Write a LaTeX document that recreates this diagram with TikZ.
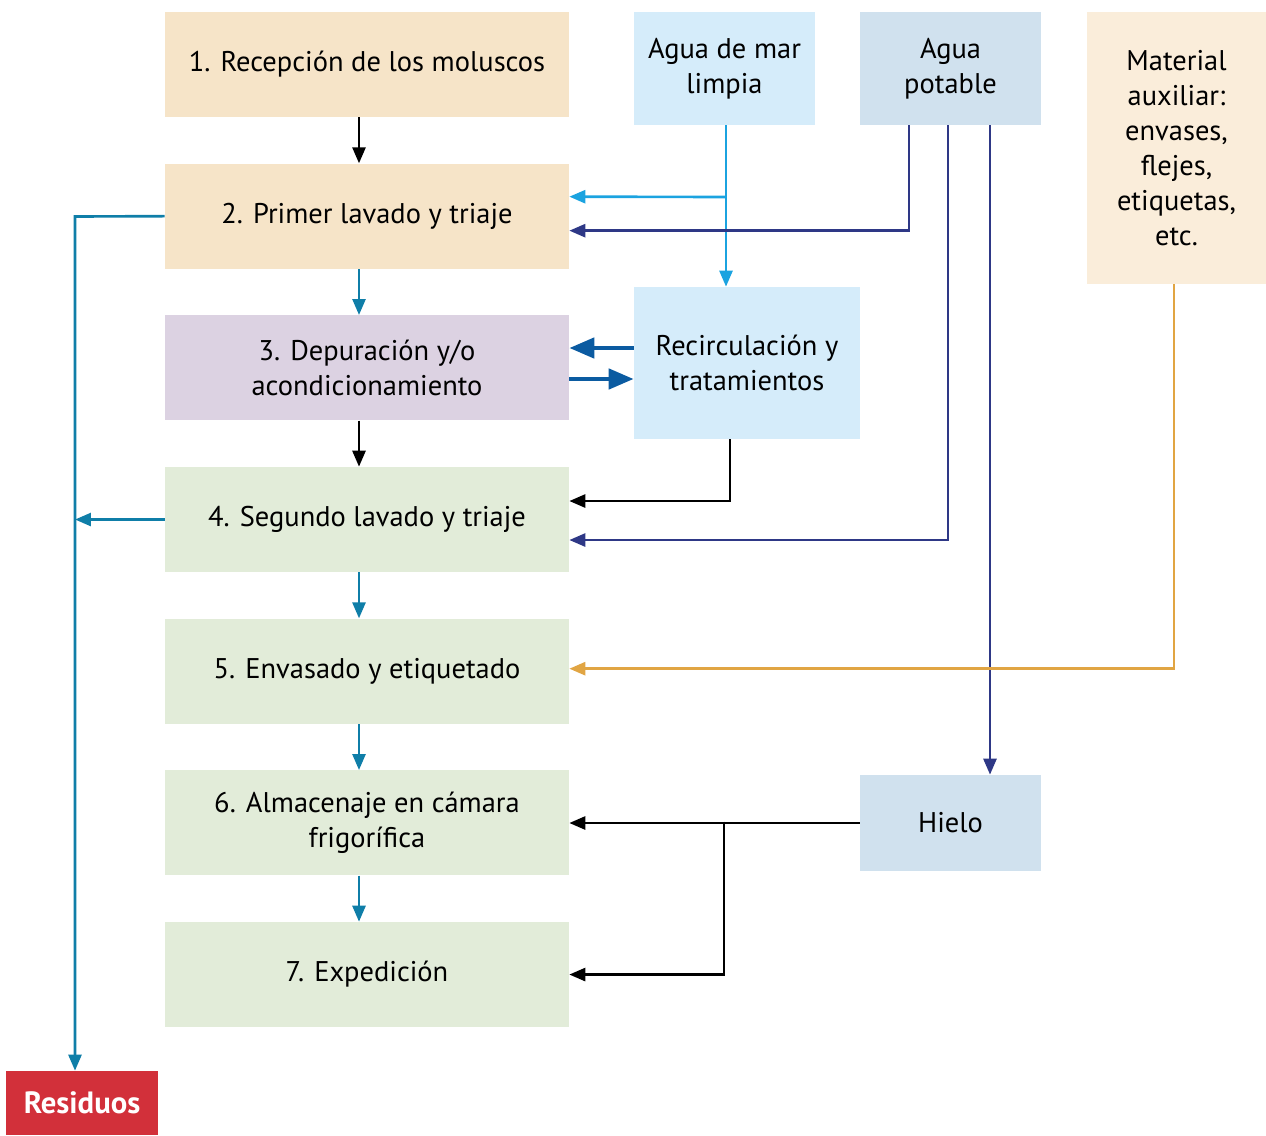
\documentclass[tikz,border=0pt]{standalone}
\usepackage{fontspec}
\setmainfont{PT Sans}
\usetikzlibrary{arrows.meta, positioning}
\definecolor{beige}{HTML}{F6E4C8}
\definecolor{lavender}{HTML}{DCD2E2}
\definecolor{palegreen}{HTML}{E2ECD9}
\definecolor{seabox}{HTML}{D5ECFA}
\definecolor{waterbox}{HTML}{D0E1EE}
\definecolor{auxbox}{HTML}{FAEDDA}
\definecolor{wastered}{HTML}{D2303A}
\definecolor{tealline}{HTML}{0F7EA8}
\definecolor{sealine}{HTML}{1BA3E0}
\definecolor{navyline}{HTML}{2E3886}
\definecolor{recline}{HTML}{0B5BA1}
\definecolor{auxline}{HTML}{E1A543}
\tikzstyle{block} = [rectangle, minimum width=8.08cm, minimum height=2.1cm, inner sep=0pt, text centered, align=center, font=\fontsize{16.2}{20}\selectfont]
\tikzstyle{source} = [rectangle, inner sep=0pt, text centered, align=center, font=\fontsize{16.2}{20}\selectfont]
\tikzstyle{arrow} = [line width=1.5pt, -{Triangle[length=0.32cm, width=0.26cm]}]
\tikzstyle{bigarrow} = [line width=2.6pt, -{Triangle[length=0.5cm, width=0.4cm]}]

\begin{document}
\begin{tikzpicture}[x=0.02cm, y=-0.02cm, node distance=0.92cm]
        \useasboundingbox (0,0) rectangle (1266,1135);
        % process column
        \node (b1) [block, fill=beige] at (367,64.5) {1. Recepción de los moluscos};
        \node (b2) [block, fill=beige, below=of b1] {2. Primer lavado y triaje};
        \node (b3) [block, fill=lavender, below=of b2] {3. Depuración y/o\\acondicionamiento};
        \node (b4) [block, fill=palegreen, below=of b3] {4. Segundo lavado y triaje};
        \node (b5) [block, fill=palegreen, below=of b4] {5. Envasado y etiquetado};
        \node (b6) [block, fill=palegreen, below=of b5] {6. Almacenaje en cámara\\frigorífica};
        \node (b7) [block, fill=palegreen, below=of b6] {7. Expedición};
        % inputs
        \node (mar) [source, fill=seabox, minimum width=3.62cm, minimum height=2.26cm] at (724.5,68.5) {Agua de mar\\limpia};
        \node (pot) [source, fill=waterbox, minimum width=3.62cm, minimum height=2.26cm] at (950.5,68.5) {Agua\\potable};
        \node (mat) [source, fill=auxbox, minimum width=3.58cm, minimum height=5.44cm] at (1176.5,148) {Material\\auxiliar:\\envases,\\flejes,\\etiquetas,\\etc.};
        \node (rec) [source, fill=seabox, minimum width=4.52cm, minimum height=3.04cm] at (747,363) {Recirculación y\\tratamientos};
        \node (hielo) [source, fill=waterbox, minimum width=3.62cm, minimum height=1.92cm] at (950.5,823) {Hielo};
        \node (res) [source, fill=wastered, text=white, minimum width=3.04cm, minimum height=1.28cm, font=\fontsize{17.5}{20}\selectfont\bfseries] at (82,1103) {Residuos};
        \coordinate (wl) at (75,216.5);
        \coordinate (hj) at (724,821.5);

        \draw [arrow] ([xshift=-0.16cm]b1.south) -- ([xshift=-0.16cm]b2.north);
        \draw [arrow, tealline] ([xshift=-0.16cm]b2.south) -- ([xshift=-0.16cm]b3.north);
        \draw [arrow] ([xshift=-0.16cm]b3.south) -- ([xshift=-0.16cm]b4.north);
        \draw [arrow, tealline] ([xshift=-0.16cm]b4.south) -- ([xshift=-0.16cm]b5.north);
        \draw [arrow, tealline] ([xshift=-0.16cm]b5.south) -- ([xshift=-0.16cm]b6.north);
        \draw [arrow, tealline] ([xshift=-0.16cm]b6.south) -- ([xshift=-0.16cm]b7.north);

        \draw [arrow, tealline] (b2.west) -- (wl) -- (wl |- res.north);
        \draw [arrow, tealline] (b4.west) -- (wl |- b4.west);

        \draw [arrow, sealine] ([xshift=0.03cm]mar.south) -- ([xshift=0.03cm]mar.south |- rec.north);
        \draw [arrow, sealine] ([xshift=0.03cm]mar.south |- 0,197) -- ([yshift=0.39cm]b2.east);

        \draw [arrow, navyline] ([xshift=-0.83cm]pot.south) |- ([yshift=-0.29cm]b2.east);
        \draw [arrow, navyline] ([xshift=-0.05cm]pot.south) |- ([yshift=-0.41cm]b4.east);
        \draw [arrow, navyline] ([xshift=0.79cm]pot.south) -- ([xshift=0.79cm]pot.south |- hielo.north);

        \draw [bigarrow, recline] ([yshift=0.3cm]rec.west) -- ([yshift=0.3cm]rec.west -| b3.east);
        \draw [bigarrow, recline] ([yshift=-0.32cm]rec.west -| b3.east) -- ([yshift=-0.32cm]rec.west);
        \draw [arrow] ([xshift=-0.34cm]rec.south) |- ([yshift=0.37cm]b4.east);

        \draw [arrow, auxline] ([xshift=-0.05cm]mat.south) |- ([yshift=0.05cm]b5.east);

        \draw [arrow] (hielo.west) -- (hielo.west -| b6.east);
        \draw [arrow] (hj) |- (b7.east);
    \end{tikzpicture}
\end{document}
